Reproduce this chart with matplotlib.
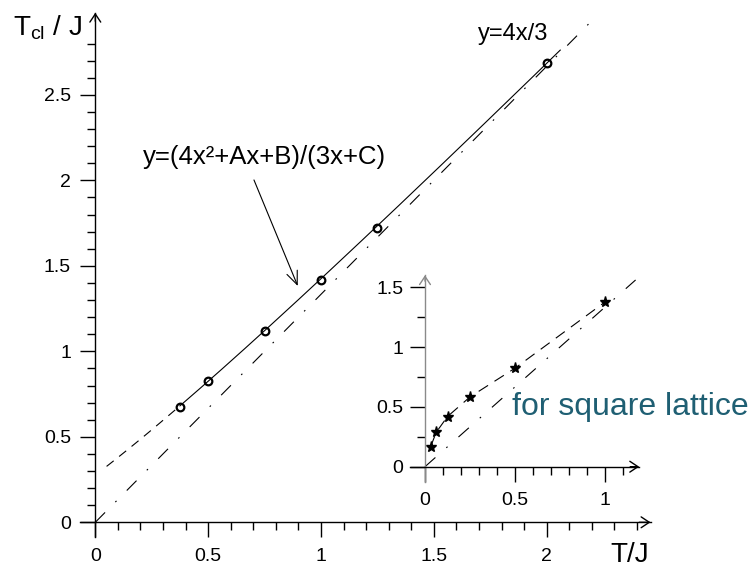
import numpy as np
import matplotlib
matplotlib.use("Agg")
import matplotlib.pyplot as plt
from matplotlib.ticker import FixedLocator, FixedFormatter

plt.rcParams["font.family"] = ["Liberation Sans", "DejaVu Sans"]
plt.rcParams["mathtext.fontset"] = "custom"
plt.rcParams["mathtext.rm"] = "Liberation Sans"
plt.rcParams["mathtext.it"] = "Liberation Sans:italic"
plt.rcParams["lines.scale_dashes"] = False

# Classical critical temperature vs quantum temperature (main panel)
main_T = [0.375, 0.5, 0.75, 1.0, 1.25, 2.0]
main_Tcl = [0.676, 0.826, 1.12, 1.417, 1.719, 2.684]

# Fit y=(4x^2+Ax+B)/(3x+C)
FIT_A, FIT_B, FIT_C = 4.81, 1.09, 3.95
fit_dash_range = (0.05, 0.375)
fit_solid_range = (0.375, 2.06)
asym_range_main = (0.0, 2.2)

# Square lattice (inset)
sq_T = [0.03125, 0.0625, 0.125, 0.25, 0.5, 1.0]
sq_Tcl = [0.167, 0.288, 0.419, 0.583, 0.823, 1.376]
asym_range_inset = (0.0, 1.17)

main_xticks = [0, 0.5, 1, 1.5, 2]
main_xlabels = ["0", "0.5", "1", "1.5", "2"]
main_yticks = [0, 0.5, 1, 1.5, 2, 2.5]
main_ylabels = ["0", "0.5", "1", "1.5", "2", "2.5"]
inset_xticks = [0, 0.5, 1]
inset_xlabels = ["0", "0.5", "1"]
inset_yticks = [0, 0.5, 1, 1.5]
inset_ylabels = ["0", "0.5", "1", "1.5"]


def fit_curve(x):
    return (4 * x**2 + FIT_A * x + FIT_B) / (3 * x + FIT_C)


W, H = 753, 569
fig = plt.figure(figsize=(W / 100, H / 100), dpi=100)


def fx(px):
    return px / W


def fy(py):
    return 1 - py / H


DASHDOT = (0, (10, 10.5, 1.2, 10.5))
DASHED = (0, (6.5, 5))
ARROW = dict(arrowstyle="->, head_length=0.45, head_width=0.3", lw=1.0,
             color="black", shrinkA=0, shrinkB=0, mutation_scale=13)


def style_axes(ax, xb, yb, xmaj, xlab, ymaj, ylab, xminor, yminor,
               ycolor="black", xpad=8, ypad=7):
    ax.patch.set_visible(False)
    for s in ("top", "right"):
        ax.spines[s].set_visible(False)
    ax.spines["left"].set_position(("data", 0))
    ax.spines["bottom"].set_position(("data", 0))
    ax.spines["left"].set_bounds(*yb)
    ax.spines["bottom"].set_bounds(*xb)
    ax.spines["left"].set_color(ycolor)
    ax.spines["left"].set_linewidth(1.0)
    ax.spines["bottom"].set_linewidth(1.0)
    ax.xaxis.set_major_locator(FixedLocator(xmaj))
    ax.xaxis.set_major_formatter(FixedFormatter(xlab))
    ax.yaxis.set_major_locator(FixedLocator(ymaj))
    ax.yaxis.set_major_formatter(FixedFormatter(ylab))
    ax.xaxis.set_minor_locator(FixedLocator(xminor))
    ax.yaxis.set_minor_locator(FixedLocator(yminor))
    ax.tick_params(which="major", direction="out", length=10.5, width=1.0,
                   labelsize=14)
    ax.tick_params(which="minor", direction="out", length=5.8, width=1.0)
    ax.tick_params(axis="x", which="major", pad=xpad)
    ax.tick_params(axis="y", which="major", pad=ypad)
    # open arrowheads at the end of each axis
    ax.annotate("", xy=(xb[1], 0), xytext=(xb[1] - 0.05, 0), arrowprops=ARROW)
    ax.annotate("", xy=(0, yb[1]), xytext=(0, yb[1] - 0.05),
                arrowprops=dict(ARROW, color=ycolor))


# ---------------- main panel ----------------
ax = fig.add_axes([0, 0, 1, 1])
x0, sx = 95.3, 225.7
y0, sy = 522.3, 171.0
ax.set_xlim(-x0 / sx, (W - x0) / sx)
ax.set_ylim(-(H - y0) / sy, y0 / sy)

main_xminor = [v for v in np.round(np.arange(0.1, 2.45, 0.1), 2) if v not in main_xticks]
main_yminor = [v for v in np.round(np.arange(0.1, 2.85, 0.1), 2) if v not in main_yticks]
style_axes(ax, (-0.068, 2.46), (-0.086, 2.98), main_xticks, main_xlabels,
           main_yticks, main_ylabels, main_xminor, main_yminor)

xa = np.linspace(*asym_range_main, 200)
ax.plot(xa, 4 * xa / 3, color="black", lw=0.8, ls=DASHDOT)
xd = np.linspace(*fit_dash_range, 100)
ax.plot(xd, fit_curve(xd), color="black", lw=0.8, ls=DASHED)
xs = np.linspace(*fit_solid_range, 300)
ax.plot(xs, fit_curve(xs), color="black", lw=0.8)
ax.plot(main_T, main_Tcl, ls="none", marker="o", ms=5.5, mfc="none",
        mec="black", mew=1.6)

ax.annotate("", xy=(0.897, 1.382), xytext=(0.703, 2.002),
            arrowprops=dict(arrowstyle="->, head_length=0.6, head_width=0.25",
                            lw=0.8, color="black", shrinkA=0, shrinkB=0,
                            mutation_scale=16))

fig.text(fx(143), fy(164), "y=(4x²+Ax+B)/(3x+C)", fontsize=18.5,
         ha="left", va="baseline")
fig.text(fx(478), fy(40), "y=4x/3", fontsize=17, ha="left", va="baseline")
fig.text(fx(630), fy(562), "T/J", fontsize=20, ha="center", va="baseline")
fig.text(fx(13), fy(35), r"T$_{\mathrm{cl}}$ / J", fontsize=20,
         ha="left", va="baseline")

# ---------------- inset: square lattice ----------------
ix0, isx = 425.0, 180.0
iy0, isy = 466.7, 119.7
bl, br, bt, bb = 380, 700, 250, 520
axi = fig.add_axes([fx(bl), fy(bb), (br - bl) / W, (bb - bt) / H])
axi.set_xlim((bl - ix0) / isx, (br - ix0) / isx)
axi.set_ylim((iy0 - bb) / isy, (iy0 - bt) / isy)

inset_xminor = [v for v in np.round(np.arange(0.1, 1.15, 0.1), 2) if v not in inset_xticks]
inset_yminor = [0.25, 0.75, 1.25]
style_axes(axi, (-0.083, 1.19), (-0.125, 1.60), inset_xticks, inset_xlabels,
           inset_yticks, inset_ylabels, inset_xminor, inset_yminor,
           ycolor="#8a8a8a", xpad=8, ypad=5)
axi.tick_params(axis="y", which="both", color="black")

xi = np.linspace(*asym_range_inset, 200)
axi.plot(xi, 4 * xi / 3, color="black", lw=0.8, ls=DASHDOT)
axi.plot(sq_T, sq_Tcl, color="black", lw=0.8, ls=(0, (8, 5.5)))
axi.plot(sq_T, sq_Tcl, ls="none", marker="*", ms=8, color="black")

fig.text(fx(512), fy(415), "for square lattice", fontsize=23,
         color="#1f5f73", ha="left", va="baseline")

fig.savefig("out.png", dpi=100)
